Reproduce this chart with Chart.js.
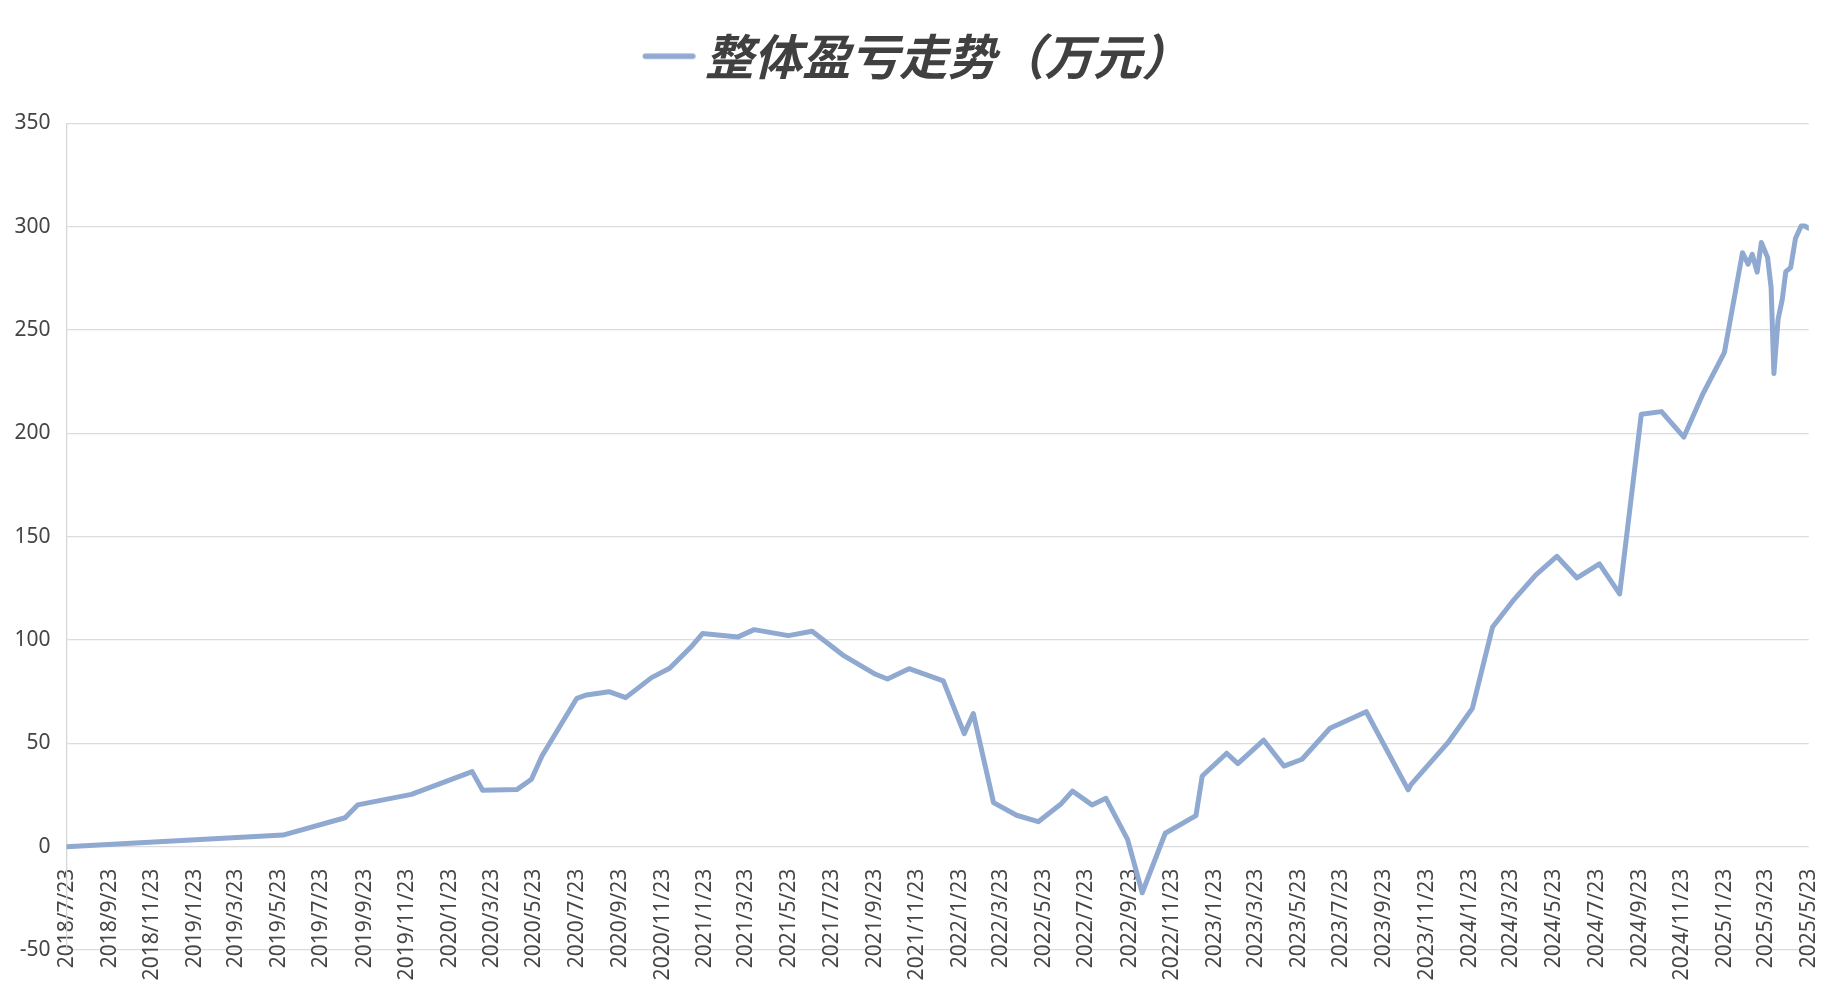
<!DOCTYPE html>
<html>
<head>
<meta charset="utf-8">
<script src="https://cdn.jsdelivr.net/npm/chart.js@4.4.1/dist/chart.umd.min.js"></script>
<style>
  html, body { margin: 0; padding: 0; background: #fff; }
</style>
</head>
<body>
<canvas id="myChart" width="1831" height="997"></canvas>
<script>
"use strict";

const seriesName = '整体盈亏走势（万元）';

// dates of the points on the line
const dates = [
    '2018/7/23', '2019/5/29', '2019/8/26', '2019/9/13', '2019/11/29', '2020/2/24', '2020/3/10', '2020/4/28',
    '2020/5/19', '2020/6/3', '2020/7/23', '2020/8/6', '2020/9/7', '2020/10/1', '2020/11/7', '2020/12/3',
    '2021/1/4', '2021/1/19', '2021/3/11', '2021/4/3', '2021/5/22', '2021/6/25', '2021/8/10', '2021/9/24',
    '2021/10/11', '2021/11/11', '2021/12/30', '2022/1/29', '2022/2/11', '2022/3/12', '2022/4/14', '2022/5/15',
    '2022/6/17', '2022/7/3', '2022/7/31', '2022/8/20', '2022/9/20', '2022/10/11', '2022/11/13', '2022/12/27',
    '2023/1/5', '2023/2/9', '2023/2/25', '2023/4/3', '2023/5/2', '2023/5/28', '2023/7/7', '2023/8/28',
    '2023/10/27', '2023/10/31', '2023/12/23', '2024/1/27', '2024/2/25', '2024/3/25', '2024/4/27', '2024/5/27',
    '2024/6/25', '2024/7/27', '2024/8/25', '2024/9/25', '2024/10/24', '2024/11/25', '2024/12/22', '2025/1/22',
    '2025/2/17', '2025/2/25', '2025/3/3', '2025/3/10', '2025/3/16', '2025/3/25', '2025/3/30', '2025/4/3',
    '2025/4/9', '2025/4/15', '2025/4/20', '2025/4/27', '2025/5/4', '2025/5/12', '2025/5/17', '2025/5/23'
];

// 万元
const values = [
    0, 5.6, 14, 20.2, 25.3, 36.3, 27.3, 27.6,
    32.6, 43.9, 71.8, 73.4, 75, 72.1, 81.8, 86.3,
    97.1, 103.1, 101.5, 105, 102.1, 104.2, 92.3, 83.4,
    81.1, 86.1, 80.2, 54.7, 64.4, 21.3, 15.2, 12.1,
    20.8, 26.9, 20.2, 23.4, 3.5, -22.3, 6.5, 15,
    34.2, 45.2, 40.2, 51.5, 39, 42.3, 57.3, 65.3,
    27.5, 30, 50.3, 66.9, 106.3, 118.9, 131.5, 140.5,
    130, 136.8, 122.3, 209.2, 210.5, 198.2, 218.9, 239,
    287.4, 281.8, 286.6, 278, 292.3, 285, 270.5, 228.9,
    255.2, 264.8, 278.2, 280.2, 294.4, 300.3, 300.3, 299.2
];

const xTickLabels = [
    '2018/7/23', '2018/9/23', '2018/11/23',
    '2019/1/23', '2019/3/23', '2019/5/23', '2019/7/23', '2019/9/23', '2019/11/23',
    '2020/1/23', '2020/3/23', '2020/5/23', '2020/7/23', '2020/9/23', '2020/11/23',
    '2021/1/23', '2021/3/23', '2021/5/23', '2021/7/23', '2021/9/23', '2021/11/23',
    '2022/1/23', '2022/3/23', '2022/5/23', '2022/7/23', '2022/9/23', '2022/11/23',
    '2023/1/23', '2023/3/23', '2023/5/23', '2023/7/23', '2023/9/23', '2023/11/23',
    '2024/1/23', '2024/3/23', '2024/5/23', '2024/7/23', '2024/9/23', '2024/11/23',
    '2025/1/23', '2025/3/23', '2025/5/23'
];

const yMin = -50;
const yMax = 350;
const yStep = 50;

const lineColor = '#8FA9D1';

// days since the first date, used as x on a linear scale
function dayOf(s) {
    var p = s.split('/').map(Number);
    return Math.round((Date.UTC(p[0], p[1] - 1, p[2]) - Date.UTC(2018, 6, 23)) / 86400000);
}

var tickDays = xTickLabels.map(dayOf);
var points = dates.map(function (d, i) { return { x: dayOf(d), y: values[i] }; });

// legend sample: a short thick line, sitting a bit closer to the text
function legendLine() {
    var c = document.createElement('canvas');
    c.width = 80;
    c.height = 12;
    var g = c.getContext('2d');
    g.strokeStyle = lineColor;
    g.lineWidth = 5.5;
    g.lineCap = 'round';
    g.beginPath();
    g.moveTo(28.5, 6);
    g.lineTo(76, 6);
    g.stroke();
    return c;
}
var legendImg = legendLine();

// extra room under the legend, like the gap above the plot in the original
const legendSpace = {
    id: 'legendSpace',
    beforeInit: function (chart) {
        var fit = chart.legend.fit;
        chart.legend.fit = function () {
            fit.call(this);
            this.height += 32.8;
        };
    }
};

const ctx = document.getElementById('myChart').getContext('2d');
const myChart = new Chart(ctx, {
    type: 'line',
    data: {
        datasets: [{
            label: seriesName,
            data: points,
            borderColor: lineColor,
            backgroundColor: lineColor,
            borderWidth: 5,
            borderJoinStyle: 'round',
            borderCapStyle: 'round',
            pointRadius: 0,
            pointHoverRadius: 0,
            tension: 0
        }]
    },
    plugins: [legendSpace],
    options: {
        responsive: false,
        animation: false,
        events: [],
        layout: {
            padding: { top: 22, left: 14, right: 22.2, bottom: 47 }
        },
        plugins: {
            tooltip: { enabled: false },
            legend: {
                position: 'top',
                labels: {
                    usePointStyle: true,
                    pointStyleWidth: 48,
                    color: '#404040',
                    padding: 10,
                    font: { family: "'Noto Sans CJK SC', sans-serif", size: 48.5, weight: 'bold', style: 'italic' },
                    generateLabels: function (chart) {
                        var items = Chart.defaults.plugins.legend.labels.generateLabels(chart);
                        items.forEach(function (it) {
                            it.pointStyle = legendImg;
                        });
                        return items;
                    }
                }
            }
        },
        scales: {
            x: {
                type: 'linear',
                position: { y: 0 },
                min: 0,
                max: tickDays[tickDays.length - 1],
                afterBuildTicks: function (scale) {
                    scale.ticks = tickDays.map(function (v) { return { value: v }; });
                },
                afterFit: function (scale) {
                    scale.paddingLeft = 0;
                    scale.paddingRight = 0;
                },
                ticks: {
                    autoSkip: false,
                    minRotation: 90,
                    maxRotation: 90,
                    padding: 14,
                    color: '#454545',
                    font: { family: "'Noto Sans', sans-serif", size: 21 },
                    callback: function (value, index) { return xTickLabels[index]; }
                },
                grid: { display: false },
                border: { display: false }
            },
            y: {
                min: yMin,
                max: yMax,
                afterFit: function (scale) {
                    scale.width = 52.6;
                },
                ticks: {
                    stepSize: yStep,
                    padding: 16,
                    color: '#454545',
                    font: { family: "'Noto Sans', sans-serif", size: 21 }
                },
                grid: { color: '#dcdcdc', lineWidth: 1.3, drawTicks: false },
                border: { color: '#d6d6d6', width: 1.3 }
            }
        }
    }
});
</script>
</body>
</html>
